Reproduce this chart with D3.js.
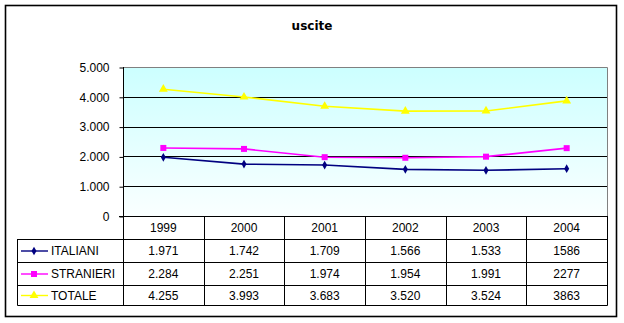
<!DOCTYPE html>
<html><head><meta charset="utf-8">
<script src="https://cdn.jsdelivr.net/npm/d3@7"></script>
<style>html,body{margin:0;padding:0;background:#fff;}svg{display:block;}</style>
</head><body>
<svg id="c" width="624" height="323"></svg>
<script>
const years = ["1999","2000","2001","2002","2003","2004"];
const seriesNames = ["ITALIANI","STRANIERI","TOTALE"];
const italiani = [1971,1742,1709,1566,1533,1586];
const stranieri = [2284,2251,1974,1954,1991,2277];
const totale = [4255,3993,3683,3520,3524,3863];
const italianiLabels = ["1.971","1.742","1.709","1.566","1.533","1586"];
const stranieriLabels = ["2.284","2.251","1.974","1.954","1.991","2277"];
const totaleLabels = ["4.255","3.993","3.683","3.520","3.524","3863"];
const yTicks = [0,1000,2000,3000,4000,5000];
const yTickLabels = ["0","1.000","2.000","3.000","4.000","5.000"];
const title = "uscite";

const colors = ["#000080","#FF00FF","#FFFF00"];
const symbols = [d3.symbolDiamond, d3.symbolSquare, d3.symbolTriangle];
const symSizes = [22, 36, 34];
const values = [italiani, stranieri, totale];
const labels = [italianiLabels, stranieriLabels, totaleLabels];

const svg = d3.select("#c");
const font = "'Liberation Sans', Arial, sans-serif";

// outer border
svg.append("rect").attr("x",5.5).attr("y",5.5).attr("width",611).attr("height",311)
  .attr("fill","#fff").attr("stroke","#000").attr("stroke-width",1.6);

svg.append("text").attr("x",312).attr("y",30).attr("text-anchor","middle")
  .attr("font-family","'DejaVu Sans', Verdana, sans-serif").attr("font-weight","bold")
  .attr("font-size",12).text(title);

const L = 123, R = 607, T = 67, B = 216;
const x = d3.scaleBand().domain(years).range([L,R]);
const y = d3.scaleLinear().domain([0,5000]).range([B,T]);

const defs = svg.append("defs");
const g = defs.append("linearGradient").attr("id","bg").attr("x1",0).attr("y1",0).attr("x2",0).attr("y2",1);
g.append("stop").attr("offset","0%").attr("stop-color","#CCFFFF");
g.append("stop").attr("offset","100%").attr("stop-color","#FAFFFF");

svg.append("rect").attr("x",L).attr("y",T).attr("width",R-L).attr("height",B-T).attr("fill","url(#bg)");

// grid
svg.append("g").selectAll("line").data(yTicks.slice(1,5)).join("line")
  .attr("x1",L).attr("x2",R).attr("y1",d=>Math.round(y(d))+0.5).attr("y2",d=>Math.round(y(d))+0.5)
  .attr("stroke","#000").attr("stroke-width",1);
// plot border top/right grey
svg.append("path").attr("d",`M${L},${T+0.5}H${R+0.5}V${B}`).attr("fill","none").attr("stroke","#808080").attr("stroke-width",1);

// y axis
const yAxis = d3.axisLeft(y).tickValues(yTicks).tickSize(4).tickFormat((d,i)=>yTickLabels[i]);
const ya = svg.append("g").attr("transform",`translate(${L+0.5},0)`).call(yAxis);
ya.select(".domain").remove();
ya.selectAll(".tick line").attr("stroke","#000").attr("y1",0.5).attr("y2",0.5);
ya.selectAll(".tick text").attr("font-family",font).attr("font-size",12).attr("fill","#000").attr("x",-14).attr("dy","0.36em");
svg.append("line").attr("x1",L+0.5).attr("x2",L+0.5).attr("y1",T).attr("y2",305).attr("stroke","#000");

// lines and markers
values.forEach((vals,si)=>{
  const line = d3.line().x((d,i)=>x(years[i])+x.bandwidth()/2).y(d=>y(d));
  svg.append("path").attr("d",line(vals)).attr("fill","none").attr("stroke",colors[si]).attr("stroke-width",1.6);
  svg.append("g").selectAll("path").data(vals).join("path")
    .attr("transform",(d,i)=>`translate(${x(years[i])+x.bandwidth()/2},${y(d)})`)
    .attr("d",d3.symbol().type(symbols[si]).size(symSizes[si])).attr("fill",colors[si]);
});

// table
const rowY = [216,239,262,285,305];
const TL = 17;
const tg = svg.append("g").attr("stroke","#000").attr("stroke-width",1).attr("fill","none");
// x axis line
tg.append("line").attr("x1",L-4).attr("x2",R+0.5).attr("y1",B+0.5).attr("y2",B+0.5);
// row lines
rowY.slice(1).forEach(ry=>tg.append("line").attr("x1",TL+0.5).attr("x2",R+0.5).attr("y1",ry+0.5).attr("y2",ry+0.5));
// vertical lines
tg.append("line").attr("x1",TL+0.5).attr("x2",TL+0.5).attr("y1",239).attr("y2",305.5);
years.forEach(yr=>{
  const xr = Math.round(x(yr)+x.bandwidth());
  tg.append("line").attr("x1",xr+0.5).attr("x2",xr+0.5).attr("y1",B).attr("y2",305.5);
});

// year labels
svg.append("g").selectAll("text").data(years).join("text")
  .attr("x",d=>x(d)+x.bandwidth()/2).attr("y",232).attr("text-anchor","middle")
  .attr("font-family",font).attr("font-size",12).text(d=>d);

// rows
labels.forEach((labs,si)=>{
  const cy = (rowY[si+1]+rowY[si+2])/2;
  svg.append("g").selectAll("text").data(labs).join("text")
    .attr("x",(d,i)=>x(years[i])+x.bandwidth()/2).attr("y",cy+0.5).attr("dy","0.36em").attr("text-anchor","middle")
    .attr("font-family",font).attr("font-size",12).text(d=>d);
  svg.append("line").attr("x1",21).attr("x2",48).attr("y1",cy+0.5).attr("y2",cy+0.5).attr("stroke",colors[si]).attr("stroke-width",1.4);
  svg.append("path").attr("transform",`translate(34,${cy+0.5})`).attr("d",d3.symbol().type(symbols[si]).size(symSizes[si])).attr("fill",colors[si]);
  svg.append("text").attr("x",51).attr("y",cy+0.5).attr("dy","0.36em").attr("font-family",font).attr("font-size",12).text(seriesNames[si]);
});
</script>
</body></html>
